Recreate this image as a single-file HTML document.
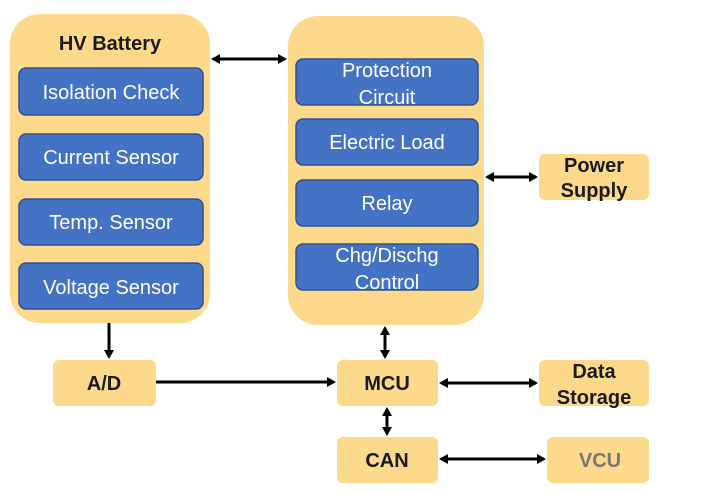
<!DOCTYPE html>
<html><head><meta charset="utf-8"><style>
html,body{margin:0;padding:0;background:#fff}
svg{display:block}
text{font-family:"Liberation Sans",sans-serif}
.w{fill:#fff;font-size:20px;text-anchor:middle}
.k{fill:#1a1a1a;font-size:20px;font-weight:bold;text-anchor:middle}
.o{fill:#fdd98c}
.b{fill:#4472c4;stroke:#2f528f;stroke-width:1.5}
.l{stroke:#000;stroke-width:3;fill:none}
</style></head><body>
<svg width="705" height="495" viewBox="0 0 705 495">
<defs>
<marker id="a" markerWidth="10" markerHeight="10" refX="7" refY="5" orient="auto-start-reverse" markerUnits="userSpaceOnUse">
<path d="M0,0 L9,5 L0,10 Z" fill="#000"/></marker>
</defs>
<rect class="o" x="10" y="14" width="200" height="309" rx="30"/>
<rect class="o" x="288" y="16" width="196" height="309" rx="30"/>
<text class="k" x="110" y="50">HV Battery</text>
<rect class="b" x="19" y="68" width="184" height="47" rx="7"/>
<rect class="b" x="19" y="134" width="184" height="46" rx="7"/>
<rect class="b" x="19" y="199" width="184" height="46" rx="7"/>
<rect class="b" x="19" y="263" width="184" height="46" rx="7"/>
<text class="w" x="111" y="99">Isolation Check</text>
<text class="w" x="111" y="164">Current Sensor</text>
<text class="w" x="111" y="229">Temp. Sensor</text>
<text class="w" x="111" y="294">Voltage Sensor</text>
<rect class="b" x="296" y="59" width="182" height="46" rx="7"/>
<rect class="b" x="296" y="119" width="182" height="46" rx="7"/>
<rect class="b" x="296" y="180" width="182" height="46" rx="7"/>
<rect class="b" x="296" y="244" width="182" height="46" rx="7"/>
<text class="w" x="387" y="77">Protection</text>
<text class="w" x="387" y="104">Circuit</text>
<text class="w" x="387" y="149">Electric Load</text>
<text class="w" x="387" y="210">Relay</text>
<text class="w" x="387" y="262">Chg/Dischg</text>
<text class="w" x="387" y="289">Control</text>
<rect class="o" x="539" y="154" width="110" height="46" rx="6"/>
<text class="k" x="594" y="172">Power</text>
<text class="k" x="594" y="197">Supply</text>
<rect class="o" x="53" y="360" width="103" height="46" rx="6"/>
<text class="k" x="104" y="390">A/D</text>
<rect class="o" x="337" y="360" width="101" height="46" rx="6"/>
<text class="k" x="387" y="390">MCU</text>
<rect class="o" x="539" y="360" width="110" height="46" rx="6"/>
<text class="k" x="594" y="378">Data</text>
<text class="k" x="594" y="404">Storage</text>
<rect class="o" x="337" y="437" width="101" height="46" rx="6"/>
<text class="k" x="387" y="467">CAN</text>
<rect class="o" x="547" y="437" width="102" height="46" rx="6"/>
<text class="k" x="600" y="467" style="fill:#777">VCU</text>
<line class="l" x1="213" y1="59" x2="285" y2="59" marker-start="url(#a)" marker-end="url(#a)"/>
<line class="l" x1="487" y1="177" x2="536" y2="177" marker-start="url(#a)" marker-end="url(#a)"/>
<line class="l" x1="109" y1="323" x2="109" y2="357" marker-end="url(#a)"/>
<line class="l" x1="156" y1="382" x2="334" y2="382" marker-end="url(#a)"/>
<line class="l" x1="385" y1="328" x2="385" y2="357" marker-start="url(#a)" marker-end="url(#a)"/>
<line class="l" x1="441" y1="383" x2="536" y2="383" marker-start="url(#a)" marker-end="url(#a)"/>
<line class="l" x1="387" y1="409" x2="387" y2="434" marker-start="url(#a)" marker-end="url(#a)"/>
<line class="l" x1="441" y1="459" x2="544" y2="459" marker-start="url(#a)" marker-end="url(#a)"/>
</svg>
</body></html>
